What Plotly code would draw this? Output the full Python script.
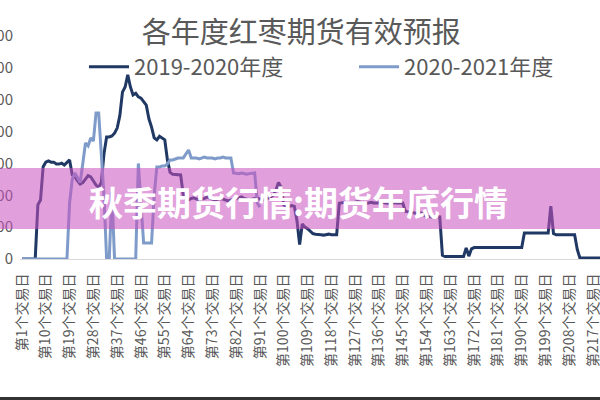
import plotly.graph_objects as go

# ---------------- data ----------------
days = [f"第{n}个交易日" for n in range(1, 221)]

series_2019_2020 = [
    0, 0, 0, 0, 0, 0,
    170, 185, 290, 304, 308, 304, 304, 298, 298, 301, 295, 304, 311, 264,
    258, 245, 235, 240, 250, 262, 258, 245, 232, 225, 240, 330, 383, 383,
    386, 395, 411, 450, 524, 540, 578, 540, 515, 520, 509, 505, 493, 483,
    440, 414, 380, 374, 385, 378, 374, 311, 272, 266, 266, 264, 264, 200,
    188, 185, 190, 192, 188, 185, 188, 190, 195, 192, 188, 185, 188, 190,
    188, 185, 182, 185, 188, 190, 192, 195, 190, 188, 185, 188, 190, 192,
    188, 185, 188, 190, 195, 200,
    215, 240, 225, 170, 165, 165, 168, 165, 120, 45, 110, 100, 95, 88, 80,
    78, 76, 76, 75, 76, 78, 76, 75, 76,
    175,
    176, 178, 176, 175, 176, 178, 180, 178, 176, 175, 176, 178, 176, 175,
    176, 178, 176, 175, 176, 178, 176, 175, 176, 176,
    150, 148, 146, 144, 144, 146, 144,
    136, 134, 132, 132, 134, 132, 132,
    12,
    8, 8, 8, 8, 8, 8, 8, 8,
    35, 9, 32,
    36, 36, 36, 36, 36, 36, 36, 36, 36, 36, 36, 36, 36, 36, 36, 36, 36, 36, 36,
    82,
    82, 82, 82, 82, 84, 82, 82, 82, 82,
    166, 80,
    76, 76, 76, 76, 76, 76, 76, 76,
    30,
    3, 3, 3, 3, 3, 3, 3, 3, 3,
]

series_2020_2021 = [
    0, 0, 0, 0, 0, 0, 0, 0, 0, 0, 0, 0, 0, 0, 0, 0, 0, 0,
    176, 250, 270, 255, 240, 300, 364, 355, 380, 370, 458, 458, 340, 200,
    0, 0, 210, 0,
    0, 0, 0, 0, 0, 0, 0, 0,
    300, 180, 50, 50, 50, 50, 200, 289, 289, 292, 292, 298, 311, 311, 314,
    317, 317, 317, 330, 342, 317,
    317, 317, 314, 317, 320, 317, 317, 317, 314, 317, 317, 320, 317, 317, 317,
    270,
    268, 268, 270, 268, 266, 268, 268, 270,
    175, 163,
]

series_names = ["2019-2020年度", "2020-2021年度"]
y_ticks = [0, 100, 200, 300, 400, 500, 600, 700]
title_text = "各年度红枣期货有效预报"
banner_text = "秋季期货行情:期货年底行情"

# ---------------- figure ----------------
FONT = "Noto Sans CJK SC, Noto Sans, sans-serif"
GRAY = "#595959"
L, PW, B, PH = 20, 580, 259, 223   # plot area in pixels

fig = go.Figure()
fig.add_trace(go.Scatter(
    x=days[:len(series_2019_2020)], y=series_2019_2020, mode="lines",
    name=series_names[0], line=dict(color="#1F3864", width=3), legend="legend",
))
fig.add_trace(go.Scatter(
    x=days[:len(series_2020_2021)], y=series_2020_2021, mode="lines",
    name=series_names[1], line=dict(color="#7F9BC9", width=3), legend="legend2",
))

legend_style = dict(orientation="h", xanchor="left", yanchor="middle",
                    y=(B - 67) / PH, font=dict(size=22, color=GRAY, family=FONT),
                    bgcolor="rgba(0,0,0,0)", itemwidth=40)
fig.update_layout(
    width=600, height=400,
    margin=dict(l=L, r=0, t=36, b=400 - B, autoexpand=False),
    paper_bgcolor="white", plot_bgcolor="white",
    font=dict(family=FONT, color=GRAY),
    title=dict(text=title_text, x=0.502, xref="container", xanchor="center",
               y=1 - 33 / 400, yref="container", yanchor="middle",
               font=dict(size=29, color=GRAY, family=FONT)),
    legend=dict(x=(84 - L) / PW, **legend_style),
    legend2=dict(x=(354 - L) / PW, **legend_style),
    showlegend=True,
)

fig.update_xaxes(
    type="category", categoryorder="array", categoryarray=days,
    range=[-0.756, 218.6], automargin=False,
    tickmode="linear", tick0=0, dtick=9,
    tickangle=-90, tickfont=dict(size=14, color=GRAY, family=FONT),
    showgrid=False, showline=True, linecolor="#D9D9D9", linewidth=1,
    ticks="", ticklabelstandoff=8, zeroline=False,
)
fig.update_yaxes(
    range=[0, 700], tickvals=y_ticks, ticktext=[str(v) for v in y_ticks],
    automargin=False,
    showgrid=False, zeroline=False, showline=False, ticks="",
    tickfont=dict(size=15, color=GRAY, family=FONT), ticklabelstandoff=6,
)

# pink banner overlay (semi-transparent) with white title text
fig.add_shape(type="rect", xref="paper", yref="paper",
              x0=-0.1, x1=1.1, y0=(B - 229) / PH, y1=(B - 168) / PH,
              fillcolor="rgba(200,80,192,0.55)", line=dict(width=0), layer="above")
fig.add_annotation(text=banner_text, xref="paper", yref="paper",
                   x=(298 - L) / PW, y=(B - 202) / PH,
                   xanchor="center", yanchor="middle", showarrow=False,
                   font=dict(size=34, color="white", family="Noto Sans CJK SC", weight="bold"))

# thin dark frame edges at top and bottom of the screenshot
fig.add_shape(type="rect", xref="paper", yref="paper",
              x0=-0.1, x1=1.1, y0=(B - 0) / PH, y1=(B + 2) / PH,
              fillcolor="#222222", line=dict(width=0), layer="above")
fig.add_shape(type="rect", xref="paper", yref="paper",
              x0=-0.1, x1=1.1, y0=(B - 397) / PH, y1=(B - 401) / PH,
              fillcolor="#333333", line=dict(width=0), layer="above")

fig.write_html("out.html")
